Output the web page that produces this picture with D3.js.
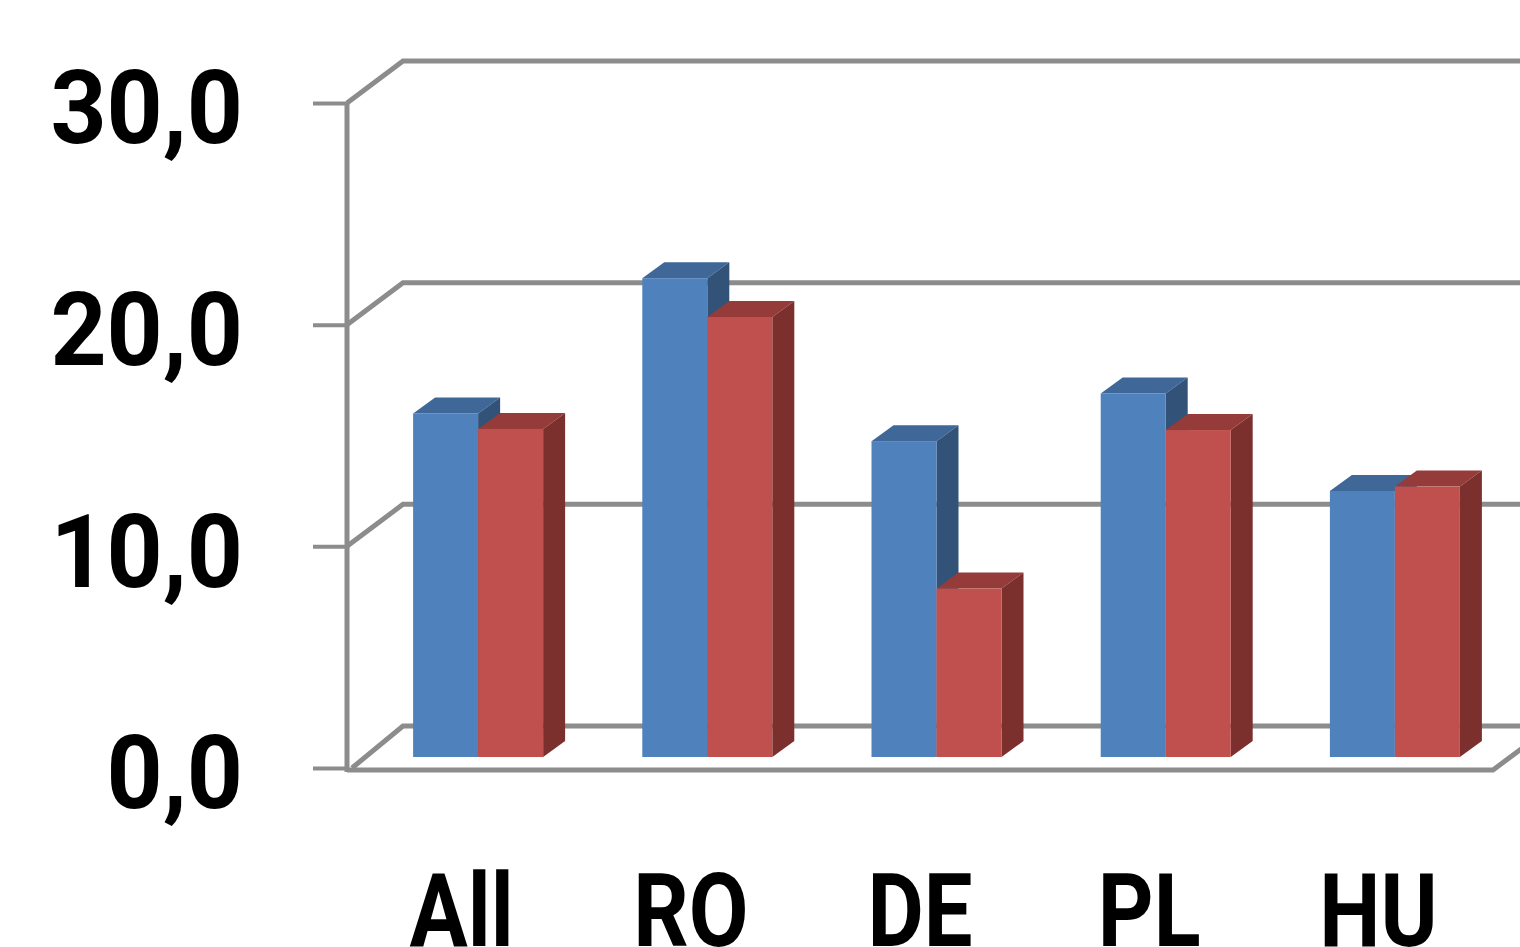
<!DOCTYPE html>
<html>
<head>
<meta charset="utf-8">
<script src="https://cdn.jsdelivr.net/npm/d3@7"></script>
<style>
  html, body { margin: 0; background: #fff; overflow: hidden; }
  svg { display: block; filter: blur(0.6px); }
  text { font-family: Roboto, sans-serif; font-weight: 700; fill: #000; }
</style>
</head>
<body>
<div id="chart"></div>
<script>
const categories = ["All", "RO", "DE", "PL", "HU"];
const seriesA = [15.5, 21.6, 14.25, 16.4, 12.0];
const seriesB = [14.8, 19.85, 7.6, 14.75, 12.2];
const yTicks = [0, 10, 20, 30];

const width = 1520;
const height = 947;
const axisColor = "#8c8c8c";
const wall = { dx: 56, dy: -42 };
const depth = { dx: 22, dy: -16 };
const barBase = { dx: 16.5, dy: -11 };
const labelSize = 102;

const svg = d3.select("#chart").append("svg").attr("width", width).attr("height", height);

const x = d3.scaleBand().domain(categories).range([347, 1493]);
const y = d3.scaleLinear().domain([0, 30]).range([768, 103]);
const groupWidth = 130;
const inner = d3.scaleBand().domain(["a", "b"]).range([0, groupWidth]);

// back wall gridlines and their diagonals
const grid = svg.append("g").attr("fill", "none").attr("stroke", axisColor).attr("stroke-width", 5);
grid.selectAll("path")
  .data(yTicks)
  .join("path")
  .attr("d", (d) => d3.line()([
    [x.range()[0] + (d === 0 ? 5 : 0), y(d)],
    [x.range()[0] + wall.dx, y(d) + wall.dy],
    [width, y(d) + wall.dy],
  ]));

// left wall edge and floor front edge
grid.append("line")
  .attr("x1", 347).attr("x2", 347)
  .attr("y1", y(30)).attr("y2", y(0) + 4);
grid.append("path")
  .attr("d", d3.line()([
    [x.range()[0], y(0) + 2],
    [x.range()[1], y(0) + 2],
    [x.range()[1] + wall.dx, y(0) + 2 + wall.dy],
  ]));

// y axis, labels squeezed a little to get the narrower digits
svg.append("g")
  .attr("transform", `translate(${x.range()[0]},0)`)
  .call(d3.axisLeft(y).tickValues(yTicks).tickSize(34).tickFormat((d) => d3.format(".1f")(d).replace(".", ",")))
  .call((g) => g.select(".domain").remove())
  .call((g) => g.selectAll("line").attr("stroke", axisColor).attr("stroke-width", 4))
  .call((g) => g.selectAll("text")
    .attr("font-size", labelSize)
    .attr("font-family", null)
    .attr("x", 0)
    .attr("dy", "0.39em")
    .attr("transform", "translate(-104,0) scale(0.96,1)"));

// x labels
svg.append("g")
  .selectAll("text")
  .data(categories)
  .join("text")
  .attr("transform", (d) => `translate(${x(d) + x.bandwidth() / 2},946) scale(0.85,1)`)
  .attr("text-anchor", "middle")
  .attr("font-size", labelSize)
  .text((d) => d);

// 3D bars
const barHeight = (v) => y(0) - y(v);
const rows = categories.flatMap((c, i) => [
  { c, key: "a", value: seriesA[i], front: "#4f81bd", top: "#3f6797", side: "#325278" },
  { c, key: "b", value: seriesB[i], front: "#c0504d", top: "#953b39", side: "#7c302e" },
]);

const bars = svg.append("g")
  .selectAll("g")
  .data(rows)
  .join("g")
  .attr("transform", (d) => `translate(${x(d.c) + (x.bandwidth() - groupWidth) / 2 + barBase.dx + inner(d.key)},${y(0) + barBase.dy})`);

bars.append("path")
  .attr("fill", (d) => d.top)
  .attr("d", (d) => {
    const h = barHeight(d.value), w = inner.bandwidth();
    return d3.line()([[0, -h], [depth.dx, -h + depth.dy], [w + depth.dx, -h + depth.dy], [w, -h]]);
  });
bars.append("path")
  .attr("fill", (d) => d.side)
  .attr("d", (d) => {
    const h = barHeight(d.value), w = inner.bandwidth();
    return d3.line()([[w, -h], [w + depth.dx, -h + depth.dy], [w + depth.dx, depth.dy], [w, 0]]);
  });
bars.append("rect")
  .attr("fill", (d) => d.front)
  .attr("width", inner.bandwidth())
  .attr("y", (d) => -barHeight(d.value))
  .attr("height", (d) => barHeight(d.value));
</script>
</body>
</html>
